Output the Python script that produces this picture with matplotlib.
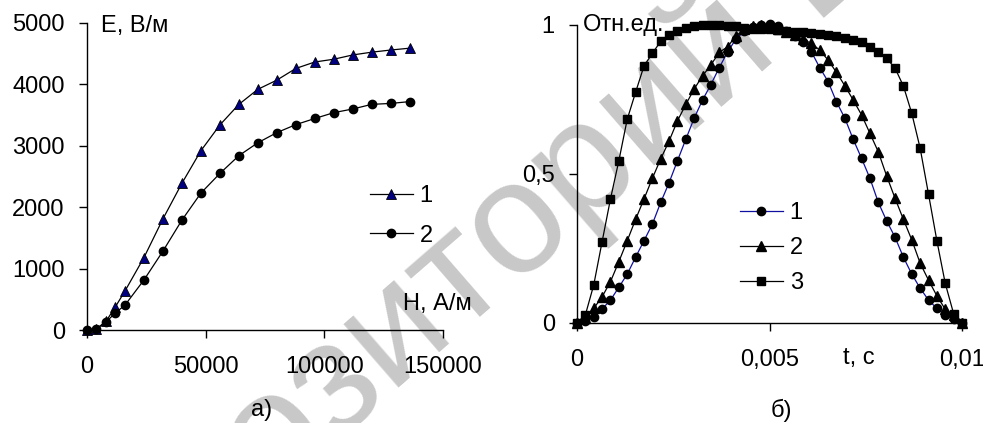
import matplotlib
matplotlib.use('Agg')
import matplotlib.pyplot as plt
from matplotlib.lines import Line2D

plt.rcParams['font.family'] = ['Liberation Sans', 'DejaVu Sans']
FS = 17

# ---------------- data: panel a) ----------------
H_field = [0, 4000, 8000, 12000, 16000, 24000, 32000, 40000, 48000, 56000,
           64000, 72000, 80000, 88000, 96000, 104000, 112000, 120000, 128000, 136000]
E_curve1 = [0, 20, 140, 380, 635, 1180, 1810, 2390, 2920, 3340,
            3675, 3920, 4070, 4260, 4365, 4410, 4480, 4525, 4560, 4590]
E_curve2 = [0, 20, 130, 280, 405, 815, 1285, 1790, 2230, 2550,
            2840, 3050, 3215, 3345, 3445, 3540, 3600, 3675, 3690, 3720]
a_xticks = [0, 50000, 100000, 150000]
a_xticklabels = ['0', '50000', '100000', '150000']
a_yticks = [0, 1000, 2000, 3000, 4000, 5000]
a_yticklabels = ['0', '1000', '2000', '3000', '4000', '5000']

# ---------------- data: panel б) ----------------
t_sec = [0.0, 0.000217, 0.000435, 0.000652, 0.000870, 0.001087, 0.001304, 0.001522,
         0.001739, 0.001957, 0.002174, 0.002391, 0.002609, 0.002826, 0.003043, 0.003261,
         0.003478, 0.003696, 0.003913, 0.004130, 0.004348, 0.004565, 0.004783, 0.005000,
         0.005217, 0.005435, 0.005652, 0.005870, 0.006087, 0.006304, 0.006522, 0.006739,
         0.006957, 0.007174, 0.007391, 0.007609, 0.007826, 0.008043, 0.008261, 0.008478,
         0.008696, 0.008913, 0.009130, 0.009348, 0.009565, 0.009783, 0.010000]
rel_1 = [0, 0.006, 0.02, 0.046, 0.076, 0.119, 0.163, 0.22, 0.275, 0.331,
         0.404, 0.47, 0.544, 0.616, 0.687, 0.748, 0.80, 0.857, 0.91, 0.953,
         0.98, 0.993, 1.0, 1.005, 0.995, 0.98, 0.962, 0.944, 0.91, 0.857,
         0.81, 0.742, 0.687, 0.616, 0.552, 0.485, 0.404, 0.342, 0.287, 0.22,
         0.163, 0.116, 0.076, 0.048, 0.026, 0.012, 0.0]
rel_2 = [0, 0.015, 0.048, 0.087, 0.138, 0.205, 0.275, 0.347, 0.415, 0.485,
         0.55, 0.61, 0.678, 0.733, 0.785, 0.829, 0.866, 0.908, 0.927, 0.964,
         0.985, 0.995, 1.0, 0.995, 0.985, 0.975, 0.965, 0.952, 0.938, 0.916,
         0.882, 0.841, 0.796, 0.748, 0.698, 0.636, 0.574, 0.493, 0.418, 0.347,
         0.278, 0.2, 0.143, 0.09, 0.045, 0.025, 0.0]
rel_3 = [0, 0.026, 0.127, 0.272, 0.416, 0.544, 0.683, 0.774, 0.862, 0.905,
         0.945, 0.966, 0.98, 0.99, 0.995, 1.0, 1.0, 1.0, 0.998, 0.995,
         0.99, 0.988, 0.985, 0.985, 0.983, 0.98, 0.978, 0.976, 0.974, 0.97,
         0.966, 0.962, 0.957, 0.95, 0.944, 0.927, 0.908, 0.888, 0.855, 0.795,
         0.703, 0.586, 0.432, 0.275, 0.132, 0.03, 0.0]
b_xticks = [0, 0.005, 0.01]
b_xticklabels = ['0', '0,005', '0,01']
b_yticks = [0, 0.5, 1]
b_yticklabels = ['0', '0,5', '1']

# ---------------- figure ----------------
W, HP = 983, 423
fig = plt.figure(figsize=(W / 100, HP / 100), dpi=100)


def fx(px):
    return px / W


def fy(py):
    return 1 - py / HP


axL = fig.add_axes([fx(87), fy(330), fx(443) - fx(87), fy(23) - fy(330)])
axR = fig.add_axes([fx(577), fy(322.7), fx(962) - fx(577), fy(25) - fy(322.7)])
for ax in (axL, axR):
    ax.set_facecolor('none')
    ax.set_zorder(2)
    for s in ('top', 'right'):
        ax.spines[s].set_visible(False)
    for s in ('left', 'bottom'):
        ax.spines[s].set_linewidth(1.0)
    ax.tick_params(direction='out', length=6, width=1.0, labelsize=FS, colors='black')
    ax.tick_params(axis='y', pad=10)
    ax.tick_params(axis='x', pad=13)

# panel a)
navy = '#000080'
axL.plot(H_field, E_curve1, color='black', lw=0.9, marker='^', ms=7.5,
         mfc=navy, mec='black', mew=0.6, clip_on=False)
axL.plot(H_field, E_curve2, color='black', lw=0.9, marker='o', ms=6,
         mfc='black', mec='black', clip_on=False)
axL.set_xlim(0, 150000)
axL.set_ylim(0, 5000)
axL.set_xticks(a_xticks)
axL.set_xticklabels(a_xticklabels)
axL.set_yticks(a_yticks)
axL.set_yticklabels(a_yticklabels)

hL = [Line2D([], [], color='black', lw=0.9, marker='^', ms=7.5, mfc=navy, mec='black', mew=0.6),
      Line2D([], [], color='black', lw=0.9, marker='o', ms=6, mfc='black', mec='black')]
axL.legend(hL, ['1', '2'], loc='upper left', bbox_to_anchor=(fx(370), fy(185)),
           bbox_transform=fig.transFigure, frameon=False, borderpad=0, borderaxespad=0,
           handlelength=1.8, handletextpad=0.3, labelspacing=0.75, fontsize=FS)

# panel б)
blue = '#1010a0'
axR.plot(t_sec, rel_1, color=blue, lw=0.9, marker='o', ms=6,
         mfc='black', mec='black', clip_on=False)
axR.plot(t_sec, rel_2, color='black', lw=0.9, marker='^', ms=6.5,
         mfc='black', mec='black', clip_on=False)
axR.plot(t_sec, rel_3, color='black', lw=0.9, marker='s', ms=6,
         mfc='black', mec='black', clip_on=False)
axR.set_xlim(0, 0.01)
axR.set_ylim(0, 1)
axR.set_xticks(b_xticks)
axR.set_xticklabels(b_xticklabels)
axR.set_yticks(b_yticks)
axR.set_yticklabels(b_yticklabels)

hR = [Line2D([], [], color=blue, lw=0.9, marker='o', ms=6, mfc='black', mec='black'),
      Line2D([], [], color='black', lw=0.9, marker='^', ms=6.5, mfc='black', mec='black'),
      Line2D([], [], color='black', lw=0.9, marker='s', ms=6, mfc='black', mec='black')]
axR.legend(hR, ['1', '2', '3'], loc='upper left', bbox_to_anchor=(fx(740), fy(202)),
           bbox_transform=fig.transFigure, frameon=False, borderpad=0, borderaxespad=0,
           handlelength=1.8, handletextpad=0.3, labelspacing=0.55, fontsize=FS)

# axis captions
fig.text(fx(101), fy(26), 'E, В/м', fontsize=FS, ha='left', va='center')
fig.text(fx(403), fy(304), 'H, А/м', fontsize=FS, ha='left', va='center')
fig.text(fx(583), fy(25), 'Отн.ед.', fontsize=FS, ha='left', va='center')
fig.text(fx(843), fy(358), 't, с', fontsize=FS, ha='left', va='center')
fig.text(fx(262), fy(410), 'а)', fontsize=FS, ha='center', va='center')
fig.text(fx(781), fy(410), 'б)', fontsize=FS, ha='center', va='center')

# watermark
fig.text(fx(62), fy(680), 'Репозиторий БНТУ', fontsize=115, color='#c8c8c8',
         rotation=41, rotation_mode='anchor', ha='left', va='baseline', zorder=1)

fig.savefig('out.png', dpi=100)
